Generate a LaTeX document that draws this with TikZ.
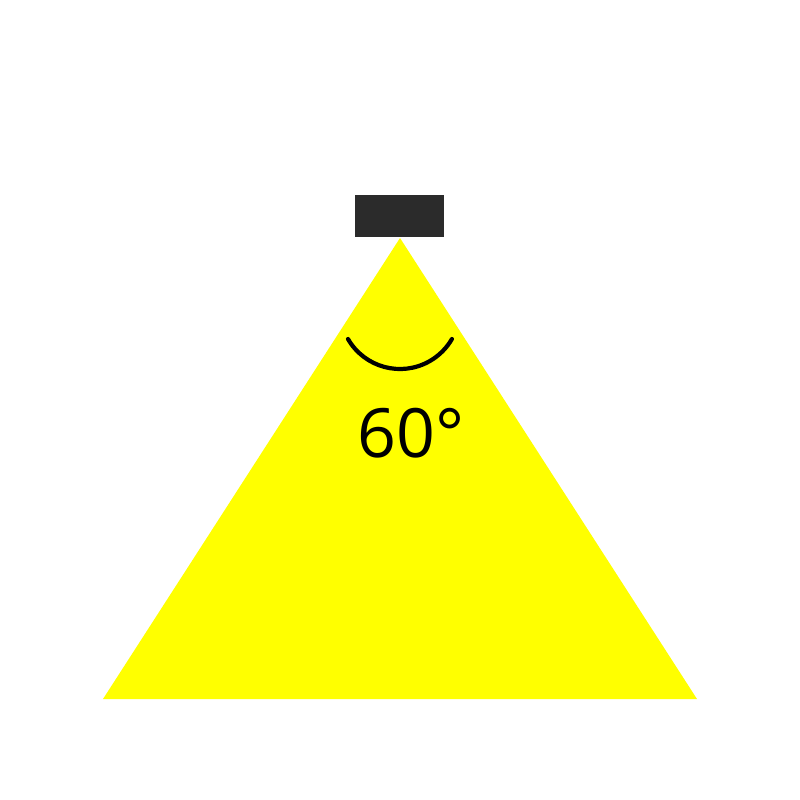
\documentclass[tikz,border=0pt]{standalone}
\usepackage{fontspec}
\setmainfont{Open Sans}
\definecolor{beam}{HTML}{FFFF00}
\definecolor{lamp}{HTML}{2B2B2B}
\begin{document}
\begin{tikzpicture}[x=1pt,y=-1pt,
  lampbox/.style={fill=lamp,draw=none},
  beamfill/.style={fill=beam,draw=none},
  anglearc/.style={line width=4.2pt,line cap=round,draw=black},
  anglelabel/.style={inner sep=0pt,font=\fontsize{68}{78}\selectfont}]
\useasboundingbox (0,0) rectangle (800,800);
\coordinate (apex) at (400,238);
\coordinate (bl) at (103,699);
\coordinate (br) at (697,699);
\fill[beamfill] (apex) -- (bl) -- (br) -- cycle;
\fill[lampbox] (355,195) rectangle (444,237);
\draw[anglearc] (348,339) arc[start angle=150,end angle=30,radius=60];
\node[anglelabel,anchor=base] (lbl) at (411,457) {60°};
\end{tikzpicture}
\end{document}
